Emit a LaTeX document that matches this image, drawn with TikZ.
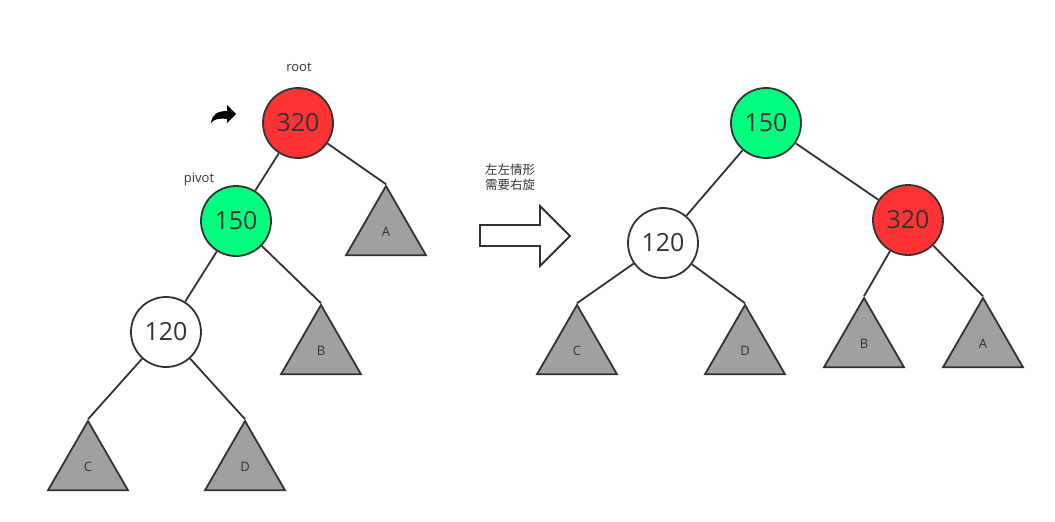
\documentclass[tikz,border=0pt]{standalone}
\usepackage{fontspec}
\setmainfont{Open Sans}
\newfontfamily\cjk{Noto Sans CJK SC}
\usetikzlibrary{shapes,positioning}
\definecolor{ink}{HTML}{333333}
\definecolor{redkey}{HTML}{FF3333}
\definecolor{greenkey}{HTML}{00FF7F}
\definecolor{subtree}{HTML}{A0A0A0}
\tikzstyle{line} = [draw, line width=1.8pt, color=ink]

\begin{document}
\begin{tikzpicture}[x=1pt,y=-1pt]
\tikzset{key/.style={circle,draw=ink,line width=1.8pt,minimum size=70pt,inner sep=0pt,text=ink,font=\fontsize{25}{30}\selectfont}}
\tikzset{sub/.style={regular polygon,regular polygon sides=3,draw=ink,fill=subtree,line width=1.8pt,minimum size=92.4pt,inner sep=0pt,text=ink,font=\fontsize{13}{15}\selectfont}}
\tikzset{tag/.style={text=ink,font=\fontsize{13}{15}\selectfont}}

\useasboundingbox (0,0) rectangle (1055,522);

% before the rotation
\node [key, fill=redkey]   (r320) at (298,123) {320};
\node [key, fill=greenkey] (p150) at (236,221) {150};
\node [key, fill=white]    (c120) at (166,332) {120};
\node [sub] (tA) at (386,232.2) {A};
\node [sub] (tB) at (321,351.2) {B};
\node [sub] (tC) at (88,467.2)  {C};
\node [sub] (tD) at (245,467.2) {D};
\node [tag] (lroot)  at (299,67)  {root};
\node [tag] (lpivot) at (199,179) {pivot};

\path [line] (r320) -- (p150);
\path [line] (r320) -- (tA.corner 1);
\path [line] (p150) -- (c120);
\path [line] (p150) -- (tB.corner 1);
\path [line] (c120) -- (tC.corner 1);
\path [line] (c120) -- (tD.corner 1);

% turn mark
\fill [black] (211,123) .. controls (212,114) and (218,111) .. (227,111)
  -- (227,105) -- (236,114) -- (227,123) -- (227,119)
  .. controls (219,118) and (214,119) .. (211,123) -- cycle;

% left-left case, rotate right
\node [font=\cjk\fontsize{12.5}{15}\selectfont, text=ink, align=center] (case) at (510,177) {左左情形\\需要右旋};
\draw [ink, line width=1.8pt, fill=white, line join=miter]
  (480,225) -- (540,225) -- (540,206) -- (570,236) -- (540,266) -- (540,246) -- (480,246) -- cycle;

% after the rotation
\node [key, fill=greenkey] (p150r) at (766,123) {150};
\node [key, fill=white]    (c120r) at (663,243) {120};
\node [key, fill=redkey]   (r320r) at (908,220) {320};
\node [sub] (tCr) at (577,351.2) {C};
\node [sub] (tDr) at (745,351.2) {D};
\node [sub] (tBr) at (864,344.2) {B};
\node [sub] (tAr) at (983,344.2) {A};

\path [line] (p150r) -- (c120r);
\path [line] (p150r) -- (r320r);
\path [line] (c120r) -- (tCr.corner 1);
\path [line] (c120r) -- (tDr.corner 1);
\path [line] (r320r) -- (tBr.corner 1);
\path [line] (r320r) -- (tAr.corner 1);
\end{tikzpicture}
\end{document}
